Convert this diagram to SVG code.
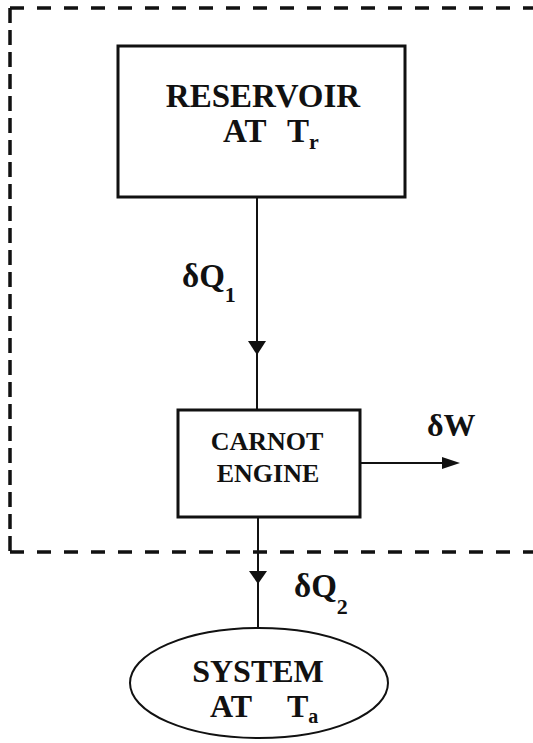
<svg xmlns="http://www.w3.org/2000/svg" width="533" height="743" viewBox="0 0 533 743">
<style>
text{font-family:'Liberation Serif','Times New Roman',serif;font-weight:bold;fill:#111}
.box{fill:#fff;stroke:#111;stroke-width:3}
.ln{stroke:#111;stroke-width:2;fill:none}
.dash{stroke:#111;fill:none;stroke-width:3.5}
.ah{fill:#111}
</style>
<rect width="533" height="743" fill="#fff"/>
<g id="boundary">
<line class="dash" x1="10" y1="8" x2="533" y2="8" stroke-dasharray="14 13"/>
<line class="dash" x1="10" y1="8" x2="10" y2="552" stroke-dasharray="15 7"/>
<line class="dash" x1="10" y1="552" x2="533" y2="552" stroke-dasharray="14 13"/>
</g>
<g id="connectors">
<line class="ln" x1="257" y1="197" x2="257" y2="410"/>
<polygon class="ah" points="248,341 266,341 257,355"/>
<line class="ln" x1="360" y1="463" x2="445" y2="463"/>
<polygon class="ah" points="442,457 460,463 442,469"/>
<line class="ln" x1="258" y1="517" x2="258" y2="628"/>
<polygon class="ah" points="249,571 267,571 258,584"/>
<text x="182" y="287" font-size="33">δQ<tspan font-size="22" dy="15">1</tspan></text>
<text x="427" y="436" font-size="32">δW</text>
<text x="294" y="597" font-size="33">δQ<tspan font-size="22" dy="17">2</tspan></text>
</g>
<g id="reservoir">
<rect class="box" x="118" y="46" width="287" height="151"/>
<text x="263" y="107" font-size="33" text-anchor="middle">RESERVOIR</text>
<text y="142" font-size="33"><tspan x="223">AT</tspan><tspan x="287">T</tspan><tspan font-size="22" dy="7">r</tspan></text>
</g>
<g id="carnot">
<rect class="box" x="178" y="410" width="182" height="107"/>
<text x="267" y="450" font-size="26" text-anchor="middle">CARNOT</text>
<text x="268" y="482" font-size="26" text-anchor="middle">ENGINE</text>
</g>
<g id="system">
<ellipse cx="259" cy="683" rx="129" ry="55" fill="#fff" stroke="#111" stroke-width="2"/>
<text x="258" y="682" font-size="32" text-anchor="middle">SYSTEM</text>
<text y="717" font-size="32"><tspan x="210">AT</tspan><tspan x="287">T</tspan><tspan font-size="20" dy="6">a</tspan></text>
</g>
</svg>
